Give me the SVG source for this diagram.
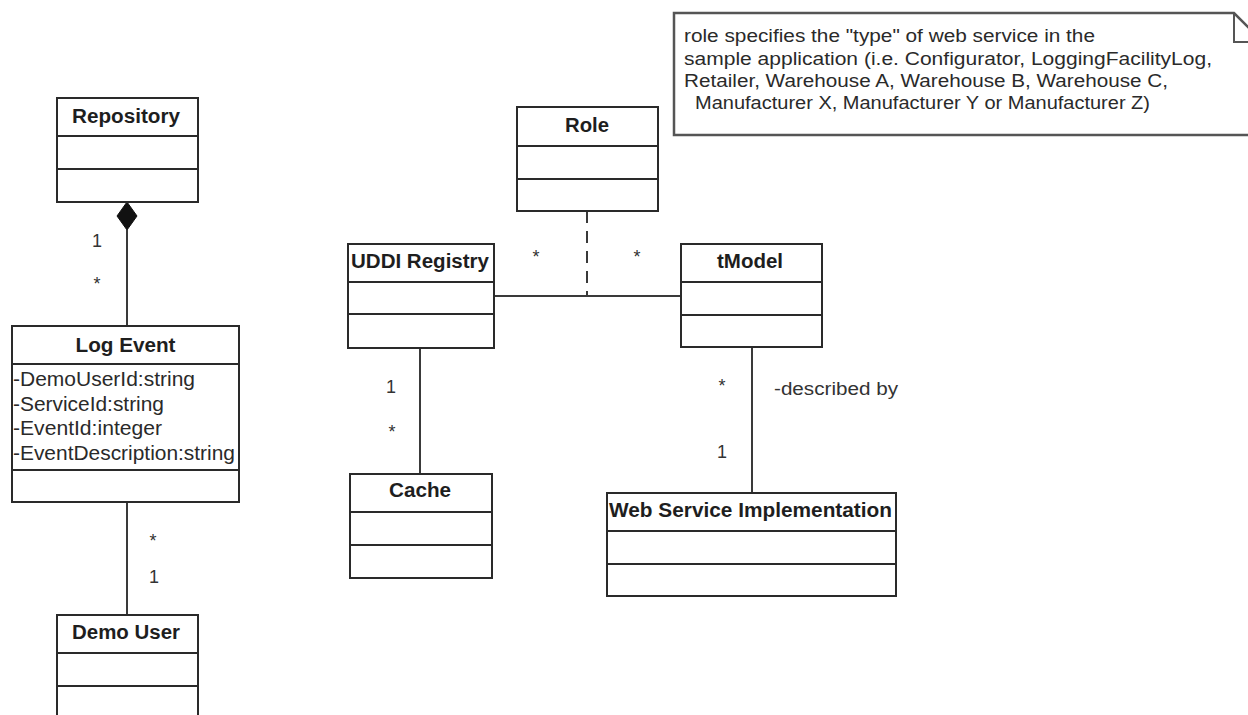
<svg xmlns="http://www.w3.org/2000/svg" width="1248" height="715" viewBox="0 0 1248 715">
<style>
.box{fill:#fff;stroke:#2a2a2a;stroke-width:2}
.div{stroke:#2a2a2a;stroke-width:2}
.title{font-family:"Liberation Sans",Arial,sans-serif;font-weight:bold;font-size:20px;fill:#1e1e1e;text-anchor:middle}
.attr{font-family:"Liberation Sans",Arial,sans-serif;font-size:20px;fill:#2a2a2a}
.mult{font-family:"Liberation Sans",Arial,sans-serif;font-size:18px;fill:#333}
.note{font-family:"Liberation Sans",Arial,sans-serif;font-size:17.5px;fill:#2a2a2a}
.conn{stroke:#3a3a3a;stroke-width:2;fill:none}
</style>
<rect width="1248" height="715" fill="#fff"/>

<g id="connectors">
  <line class="conn" x1="127" y1="230" x2="127" y2="326"/>
  <polygon points="127,202 137,216 127,230 117,216" fill="#111" stroke="#111" stroke-width="1"/>
  <line class="conn" x1="127" y1="502" x2="127" y2="615"/>
  <line class="conn" x1="494" y1="296" x2="681" y2="296"/>
  <line class="conn" x1="587" y1="211" x2="587" y2="296" stroke-dasharray="12 8"/>
  <line class="conn" x1="420" y1="348" x2="420" y2="474"/>
  <line class="conn" x1="752" y1="347" x2="752" y2="493"/>
  <text class="mult" x="97" y="247" text-anchor="middle">1</text>
  <text class="mult" x="97" y="290" text-anchor="middle">*</text>
  <text class="mult" x="153" y="547" text-anchor="middle">*</text>
  <text class="mult" x="154" y="583" text-anchor="middle">1</text>
  <text class="mult" x="391" y="393" text-anchor="middle">1</text>
  <text class="mult" x="392" y="438" text-anchor="middle">*</text>
  <text class="mult" x="536" y="263" text-anchor="middle">*</text>
  <text class="mult" x="637" y="263" text-anchor="middle">*</text>
  <text class="mult" x="722" y="392" text-anchor="middle">*</text>
  <text class="mult" x="722" y="458" text-anchor="middle">1</text>
  <text class="mult" x="774" y="395" font-size="17" textLength="124" lengthAdjust="spacingAndGlyphs">-described by</text>
</g>

<g id="repository">
  <rect class="box" x="57" y="98" width="141" height="104"/>
  <line class="div" x1="57" y1="136" x2="198" y2="136"/>
  <line class="div" x1="57" y1="169" x2="198" y2="169"/>
  <text class="title" x="126" y="123" textLength="108" lengthAdjust="spacingAndGlyphs">Repository</text>
</g>

<g id="log-event">
  <rect class="box" x="12" y="326" width="227" height="176"/>
  <line class="div" x1="12" y1="364" x2="239" y2="364"/>
  <line class="div" x1="12" y1="470" x2="239" y2="470"/>
  <text class="title" x="125.5" y="352" textLength="100" lengthAdjust="spacingAndGlyphs">Log Event</text>
  <text class="attr" x="13" y="386" textLength="182" lengthAdjust="spacingAndGlyphs">-DemoUserId:string</text>
  <text class="attr" x="13" y="411" textLength="151" lengthAdjust="spacingAndGlyphs">-ServiceId:string</text>
  <text class="attr" x="13" y="435" textLength="149" lengthAdjust="spacingAndGlyphs">-EventId:integer</text>
  <text class="attr" x="13" y="460" textLength="222" lengthAdjust="spacingAndGlyphs">-EventDescription:string</text>
</g>

<g id="demo-user">
  <rect class="box" x="57" y="615" width="141" height="120"/>
  <line class="div" x1="57" y1="653" x2="198" y2="653"/>
  <line class="div" x1="57" y1="686" x2="198" y2="686"/>
  <text class="title" x="126" y="639" textLength="108" lengthAdjust="spacingAndGlyphs">Demo User</text>
</g>

<g id="role">
  <rect class="box" x="517" y="107" width="141" height="104"/>
  <line class="div" x1="517" y1="146" x2="658" y2="146"/>
  <line class="div" x1="517" y1="179" x2="658" y2="179"/>
  <text class="title" x="587" y="132" textLength="44" lengthAdjust="spacingAndGlyphs">Role</text>
</g>

<g id="uddi-registry">
  <rect class="box" x="348" y="244" width="146" height="104"/>
  <line class="div" x1="348" y1="282" x2="494" y2="282"/>
  <line class="div" x1="348" y1="314" x2="494" y2="314"/>
  <text class="title" x="420" y="268" textLength="138" lengthAdjust="spacingAndGlyphs">UDDI Registry</text>
</g>

<g id="tmodel">
  <rect class="box" x="681" y="244" width="141" height="103"/>
  <line class="div" x1="681" y1="282" x2="822" y2="282"/>
  <line class="div" x1="681" y1="315" x2="822" y2="315"/>
  <text class="title" x="750" y="268" textLength="66" lengthAdjust="spacingAndGlyphs">tModel</text>
</g>

<g id="cache">
  <rect class="box" x="350" y="474" width="142" height="104"/>
  <line class="div" x1="350" y1="512" x2="492" y2="512"/>
  <line class="div" x1="350" y1="545" x2="492" y2="545"/>
  <text class="title" x="420" y="497" textLength="62" lengthAdjust="spacingAndGlyphs">Cache</text>
</g>

<g id="web-service-implementation">
  <rect class="box" x="607" y="493" width="289" height="103"/>
  <line class="div" x1="607" y1="531" x2="896" y2="531"/>
  <line class="div" x1="607" y1="564" x2="896" y2="564"/>
  <text class="title" x="750.5" y="517" textLength="283" lengthAdjust="spacingAndGlyphs">Web Service Implementation</text>
</g>

<g id="note">
  <path d="M674,13 H1234 L1263,42 V135 H674 Z" fill="#fff" stroke="#555" stroke-width="2.5"/>
  <path d="M1234,13 V42 H1263" fill="none" stroke="#555" stroke-width="2"/>
  <text class="note" x="684" y="42" textLength="411" lengthAdjust="spacingAndGlyphs">role specifies the "type" of web service in the</text>
  <text class="note" x="684" y="65" textLength="528" lengthAdjust="spacingAndGlyphs">sample application (i.e. Configurator, LoggingFacilityLog,</text>
  <text class="note" x="684" y="87" textLength="484" lengthAdjust="spacingAndGlyphs">Retailer, Warehouse A, Warehouse B, Warehouse C,</text>
  <text class="note" x="695" y="109" textLength="455" lengthAdjust="spacingAndGlyphs">Manufacturer X, Manufacturer Y or Manufacturer Z)</text>
</g>
</svg>
